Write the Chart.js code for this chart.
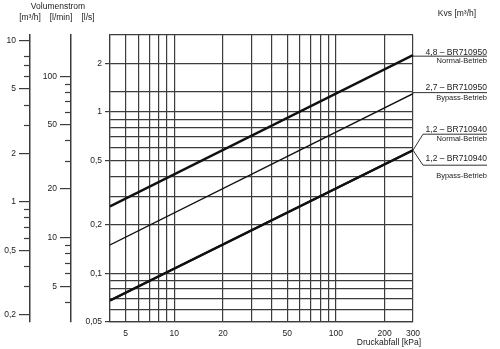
<!DOCTYPE html>
<html>
<head>
<meta charset="utf-8">
<script src="https://cdn.jsdelivr.net/npm/chart.js@4.4.0/dist/chart.umd.min.js"></script>
<style>
html, body { margin: 0; padding: 0; background: #fff; }
canvas { display: block; }
</style>
</head>
<body>
<canvas id="chart" width="500" height="349"></canvas>
<script>
// pressure drop [kPa] at the two ends of each (straight, log-log) line
const pressureKPa = [4, 300]
// flow [l/s]
const kvs48Normal = [0.26, 2.25]
const kvs27Bypass = [0.15, 1.3]
const kvs12Normal = [0.068, 0.58]
const kvs12Bypass = [0.068, 0.58]

const seriesTitles = ['4,8 – BR710950', '2,7 – BR710950', '1,2 – BR710940', '1,2 – BR710940']
const seriesModes = ['Normal-Betrieb', 'Bypass-Betrieb', 'Normal-Betrieb', 'Bypass-Betrieb']

const xTicks = [4, 5, 6, 7, 8, 9, 10, 20, 30, 40, 50, 60, 70, 80, 90, 100, 200, 300]
const xLabels = ['', '5', '', '', '', '', '10', '20', '', '', '50', '', '', '', '', '100', '200', '300']

const lsTicks = [0.05, 0.06, 0.07, 0.08, 0.09, 0.1, 0.2, 0.3, 0.4, 0.5, 0.6, 0.7, 0.8, 0.9, 1, 4/3, 2, 3]
const lsLabels = ['0,05', '', '', '', '', '0,1', '0,2', '', '', '0,5', '', '', '', '', '1', '', '2', '']

const m3hTicks = [0.2, 0.3, 0.4, 0.5, 0.6, 0.7, 0.8, 0.9, 1, 2, 3, 4, 5, 6, 7, 8, 10]
const m3hLabels = ['0,2', '', '', '0,5', '', '', '', '', '1', '2', '', '', '5', '', '', '', '10']

const lminTicks = [4, 5, 6, 7, 8, 9, 10, 20, 30, 40, 50, 60, 70, 80, 90, 100]
const lminLabels = ['', '5', '', '', '', '', '10', '20', '', '', '50', '', '', '', '', '100']

const LS_MIN = 0.05, LS_MAX = 3
const M3H_PER_LS = 3.6, LMIN_PER_LS = 60

const FONT = '"Liberation Sans", Arial, sans-serif'
const INK = '#222'
const GRID = '#3c3c3c'

function pts(ys) {
    return pressureKPa.map((x, i) => ({x: x, y: ys[i]}))
}

// only labelled ticks get a tick mark
let labelledTick = ctx => (ctx.tick && ctx.tick.label) ? GRID : 'rgba(0,0,0,0)'

function sideAxis(ticks, labels, min, max, weight, width, onChart) {
    return {
        type: 'logarithmic',
        position: 'left',
        weight: weight,
        min: min,
        max: max,
        afterBuildTicks: s => { s.ticks = ticks.map(v => ({value: v})) },
        afterFit: s => { s.width = width },
        grid: {
            drawOnChartArea: onChart,
            color: GRID,
            lineWidth: 1.2,
            tickLength: onChart ? 5 : 11,
            tickColor: labelledTick,
            tickWidth: 1.2
        },
        border: {display: true, color: GRID, width: onChart ? 1.2 : 1.5},
        ticks: {
            autoSkip: false,
            maxRotation: 0,
            padding: 3,
            color: INK,
            font: {family: FONT, size: 8.5},
            callback: (v, i) => labels[i]
        }
    }
}

// series labels on the right
let labelLayout = [
    {dy: 1, kink: false, titleDy: -4, subDy: 5},
    {dy: -1, kink: false, titleDy: -5, subDy: 5},
    {dy: -16, kink: true, titleDy: -5, subDy: 5},
    {dy: 15, kink: true, titleDy: -7, subDy: 11}
]

const overlay = {
    id: 'overlay',
    afterDraw(chart) {
        const ctx = chart.ctx
        const area = chart.chartArea
        ctx.save()

        // short unlabelled ticks on the two outer scales
        ctx.strokeStyle = GRID
        ctx.lineWidth = 1.2
        ;['m3h', 'lmin'].forEach(id => {
            const s = chart.scales[id]
            s.ticks.forEach(t => {
                if (t.label) return
                const y = Math.round(s.getPixelForValue(t.value)) + 0.5
                ctx.beginPath()
                ctx.moveTo(s.right - 6, y)
                ctx.lineTo(s.right, y)
                ctx.stroke()
            })
        })

        ctx.fillStyle = INK
        ctx.textBaseline = 'middle'
        ctx.textAlign = 'center'
        ctx.font = '8.5px ' + FONT
        ctx.fillText('Volumenstrom', 58, 7)
        ctx.fillText('[m³/h]', 30, 18)
        ctx.fillText('[l/min]', 61, 18)
        ctx.fillText('[l/s]', 88, 18)
        ctx.fillText('Kvs [m³/h]', 457, 14)

        ctx.textAlign = 'right'
        ctx.fillText('Druckabfall [kPa]', area.right + 8, 343)

        // series labels
        const rightEdge = area.right + 74
        chart.data.datasets.forEach((ds, i) => {
            const meta = chart.getDatasetMeta(i)
            const last = meta.data[meta.data.length - 1]
            const L = labelLayout[i]
            const uy = last.y + L.dy
            ctx.strokeStyle = '#333'
            ctx.lineWidth = 1
            ctx.beginPath()
            ctx.moveTo(last.x, last.y)
            if (L.kink) ctx.lineTo(area.right + 10, uy)
            else ctx.lineTo(area.right, uy)
            ctx.lineTo(rightEdge, uy)
            ctx.stroke()

            ctx.fillStyle = INK
            ctx.font = '8.5px ' + FONT
            ctx.fillText(seriesTitles[i], rightEdge, uy + L.titleDy)
            ctx.font = '7.5px ' + FONT
            ctx.fillText(seriesModes[i], rightEdge, uy + L.subDy)
        })
        ctx.restore()
    }
}

let chartConfig = {
    type: 'line',
    data: {
        datasets: [
            {label: seriesTitles[0], data: pts(kvs48Normal), borderColor: '#111', borderWidth: 2.4},
            {label: seriesTitles[1], data: pts(kvs27Bypass), borderColor: '#111', borderWidth: 1.4},
            {label: seriesTitles[2], data: pts(kvs12Normal), borderColor: '#111', borderWidth: 2.2},
            {label: seriesTitles[3], data: pts(kvs12Bypass), borderColor: '#111', borderWidth: 2.2}
        ]
    },
    options: {
        responsive: false,
        animation: false,
        parsing: false,
        elements: {point: {radius: 0}, line: {tension: 0}},
        layout: {padding: {top: 35, right: 87, left: 0, bottom: 0}},
        plugins: {legend: {display: false}, tooltip: {enabled: false}},
        scales: {
            x: {
                type: 'logarithmic',
                position: 'bottom',
                min: 4,
                max: 300,
                afterBuildTicks: s => { s.ticks = xTicks.map(v => ({value: v})) },
                afterFit: s => { s.height = 27 },
                grid: {color: GRID, lineWidth: 1.2, drawTicks: false},
                border: {display: true, color: GRID, width: 1.2},
                ticks: {
                    autoSkip: false,
                    maxRotation: 0,
                    padding: 7,
                    color: INK,
                    font: {family: FONT, size: 8.5},
                    callback: (v, i) => xLabels[i]
                }
            },
            y: sideAxis(lsTicks, lsLabels, LS_MIN, LS_MAX, 0, 39, true),
            lmin: sideAxis(lminTicks, lminLabels, LS_MIN * LMIN_PER_LS, LS_MAX * LMIN_PER_LS, 1, 41, false),
            m3h: sideAxis(m3hTicks, m3hLabels, LS_MIN * M3H_PER_LS, LS_MAX * M3H_PER_LS, 2, 30, false)
        }
    },
    plugins: [overlay]
}

let chart = new Chart(document.getElementById('chart').getContext('2d'), chartConfig)
</script>
</body>
</html>
